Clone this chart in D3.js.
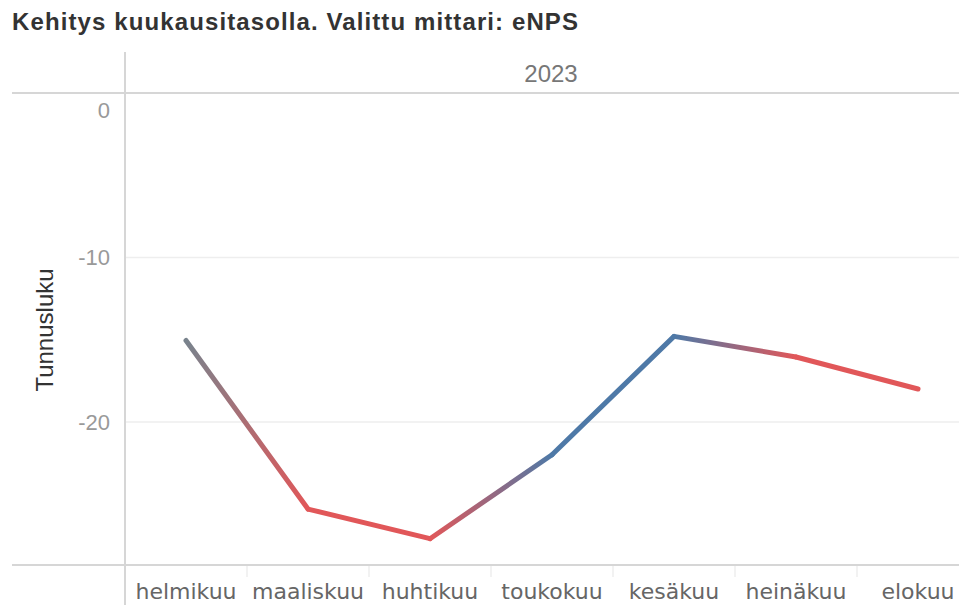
<!DOCTYPE html>
<html>
<head>
<meta charset="utf-8">
<script src="https://cdn.jsdelivr.net/npm/d3@7"></script>
<style>
  body { margin: 0; background: #fff; }
  svg { display: block; }
</style>
</head>
<body>
<div id="chart"></div>
<script>
// data
const months = ['helmikuu', 'maaliskuu', 'huhtikuu', 'toukokuu', 'kesäkuu', 'heinäkuu', 'elokuu'];
const values = [-15.05, -25.3, -27.1, -22.0, -14.8, -16.05, -18.0];
const yTicks = [0, -10, -20];
const yearLabel = '2023';

const width = 959;
const height = 605;
const plotLeft = 125;
const plotTop = 93;
const plotBottom = 565;
const bandW = 122;

const colUp = '#4e79a7';
const colDown = '#e15759';
const colNeutral = '#79838d';

const svg = d3.select('#chart')
    .append('svg')
    .attr('width', width)
    .attr('height', height);

const x = d3.scaleBand()
    .domain(months)
    .range([plotLeft, plotLeft + bandW * months.length]);

const y = d3.scaleLinear()
    .domain([-28.7, 0])
    .range([plotBottom, plotTop]);

// title
svg.append('text')
    .attr('x', 12)
    .attr('y', 30)
    .attr('font-family', 'Liberation Sans, Arial, sans-serif')
    .attr('font-weight', 'bold')
    .attr('font-size', '24px')
    .attr('fill', '#333')
    .attr('textLength', 566)
    .attr('lengthAdjust', 'spacing')
    .text('Kehitys kuukausitasolla. Valittu mittari: eNPS');

// column header
svg.append('text')
    .attr('x', 551)
    .attr('y', 82)
    .attr('text-anchor', 'middle')
    .attr('font-family', 'Liberation Sans, Arial, sans-serif')
    .attr('font-size', '24px')
    .attr('fill', '#777')
    .text(yearLabel);

// grid lines
svg.append('g')
    .selectAll('line')
    .data(yTicks.filter(d => d !== 0))
    .enter()
    .append('line')
    .attr('x1', plotLeft)
    .attr('x2', width)
    .attr('y1', d => y(d))
    .attr('y2', d => y(d))
    .style('stroke', '#eeeeee')
    .style('stroke-width', 1.5);

// frame lines
svg.append('line')
    .attr('x1', 12).attr('x2', width)
    .attr('y1', plotTop).attr('y2', plotTop)
    .style('stroke', '#d6d6d6').style('stroke-width', 2);
svg.append('line')
    .attr('x1', 12).attr('x2', width)
    .attr('y1', plotBottom).attr('y2', plotBottom)
    .style('stroke', '#d6d6d6').style('stroke-width', 2);
svg.append('line')
    .attr('x1', plotLeft).attr('x2', plotLeft)
    .attr('y1', 52).attr('y2', height)
    .style('stroke', '#d6d6d6').style('stroke-width', 2);

// y tick labels (0 sits under the top line like in Tableau)
svg.append('g')
    .selectAll('text')
    .data(yTicks)
    .enter()
    .append('text')
    .attr('x', 110)
    .attr('y', d => d === 0 ? y(d) + 17 : y(d))
    .attr('dy', '0.35em')
    .attr('text-anchor', 'end')
    .attr('font-family', 'Liberation Sans, Arial, sans-serif')
    .attr('font-size', '22px')
    .attr('fill', '#999')
    .text(d => d);

// y title
svg.append('text')
    .attr('transform', 'translate(53,330) rotate(-90)')
    .attr('text-anchor', 'middle')
    .attr('font-family', 'Liberation Sans, Arial, sans-serif')
    .attr('font-size', '24px')
    .attr('fill', '#333')
    .text('Tunnusluku');

// x labels and separators
svg.append('g')
    .selectAll('line')
    .data(months.slice(1))
    .enter()
    .append('line')
    .attr('x1', d => x(d)).attr('x2', d => x(d))
    .attr('y1', plotBottom + 1).attr('y2', plotBottom + 12)
    .style('stroke', '#eeeeee').style('stroke-width', 1.5);

svg.append('g')
    .selectAll('text')
    .data(months)
    .enter()
    .append('text')
    .attr('x', d => x(d) + x.bandwidth() / 2)
    .attr('y', 599)
    .attr('text-anchor', 'middle')
    .attr('font-family', 'DejaVu Sans, Verdana, sans-serif')
    .attr('font-size', '22px')
    .attr('fill', '#666')
    .text(d => d);

// line, coloured by change from previous month
const pts = months.map((m, i) => ({
    month: m,
    value: values[i],
    x: x(m) + x.bandwidth() / 2,
    y: y(values[i]),
    color: i === 0 ? colNeutral : (values[i] < values[i - 1] ? colDown : colUp)
}));

const defs = svg.append('defs');
const segs = d3.pairs(pts);

segs.forEach((s, i) => {
    const g = defs.append('linearGradient')
        .attr('id', 'seg' + i)
        .attr('gradientUnits', 'userSpaceOnUse')
        .attr('x1', s[0].x).attr('y1', s[0].y)
        .attr('x2', s[1].x).attr('y2', s[1].y);
    g.append('stop').attr('offset', '0%').attr('stop-color', s[0].color);
    g.append('stop').attr('offset', '100%').attr('stop-color', s[1].color);
});

const lineGen = d3.line().x(d => d.x).y(d => d.y);

svg.append('g')
    .selectAll('path')
    .data(segs)
    .enter()
    .append('path')
    .attr('d', d => lineGen(d))
    .attr('fill', 'none')
    .attr('stroke', (d, i) => 'url(#seg' + i + ')')
    .attr('stroke-width', 5)
    .attr('stroke-linecap', 'round')
    .attr('stroke-linejoin', 'round');
</script>
</body>
</html>
